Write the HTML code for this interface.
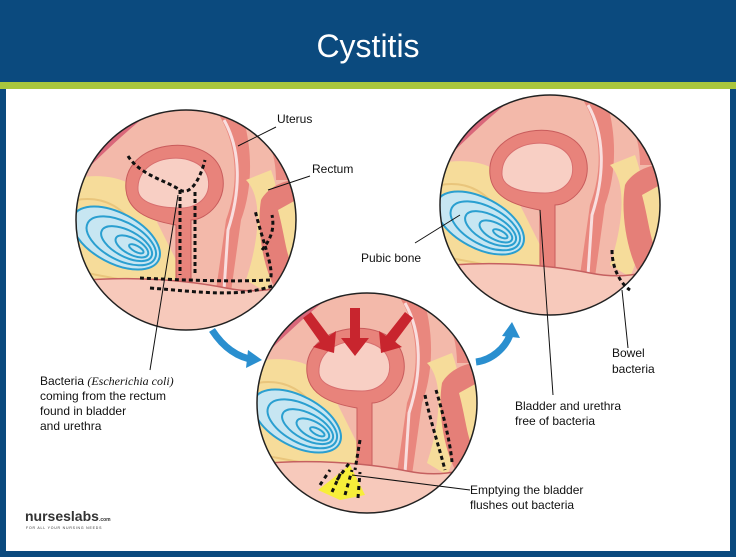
<!DOCTYPE html>
<html><head><meta charset="utf-8"><style>
html,body{margin:0;padding:0;background:#fff}
body{width:736px;height:557px;position:relative;overflow:hidden;font-family:"Liberation Sans",sans-serif}
</style></head><body>
<svg width="736" height="557" viewBox="0 0 736 557" xmlns="http://www.w3.org/2000/svg" style="position:absolute;left:0;top:0">
<defs>
<clipPath id="cc"><circle cx="0" cy="0" r="110"/></clipPath>
<g id="anat">
 <g clip-path="url(#cc)">
  <rect x="-120" y="-120" width="240" height="240" fill="#f3b9aa"/>
  <path d="M-120,-120 L-20,-120 C-60,-90 -90,-60 -120,-30Z" fill="#d9677a"/>
  <path d="M-120,-40 C-80,-50 -50,-40 -40,-20 L-10,40 C0,60 -10,70 -40,72 L-120,80Z" fill="#f6dc9a"/>
  <path d="M-110,-20 C-80,-25 -60,-10 -50,10 M-115,0 C-85,0 -60,20 -50,40 M-115,50 C-90,55 -60,60 -40,65" stroke="#e9c57c" stroke-width="2" fill="none"/>
  <g transform="rotate(28 -70 18)">
   <ellipse cx="-70" cy="18" rx="48" ry="25" fill="#c7e6f2" stroke="#2a9fd0" stroke-width="2"/>
   <ellipse cx="-64" cy="18" rx="38" ry="19" fill="none" stroke="#2a9fd0" stroke-width="2"/>
   <ellipse cx="-58" cy="18" rx="28" ry="13" fill="none" stroke="#2a9fd0" stroke-width="2"/>
   <ellipse cx="-52" cy="18" rx="18" ry="8" fill="none" stroke="#2a9fd0" stroke-width="2"/>
   <ellipse cx="-47" cy="18" rx="8" ry="3" fill="none" stroke="#2a9fd0" stroke-width="2"/>
  </g>
  <path d="M20,-120 C60,-110 90,-90 90,-40 L110,-40 L110,-120Z" fill="#e98a82"/>
  <path d="M-60,-30 C-65,-80 20,-90 35,-50 C45,-20 20,0 5,0 L5,70 L-10,70 L-10,5 C-40,0 -58,-10 -60,-30Z" fill="#e8837b" stroke="#c85c5c" stroke-width="1"/>
  <path d="M-48,-30 C-50,-68 15,-72 22,-42 C26,-22 10,-12 -5,-12 C-30,-12 -47,-18 -48,-30Z" fill="#f8cfc4" stroke="#d86f6f" stroke-width="1"/>
  <path d="M30,-110 C50,-80 55,-40 40,0 L30,70 L45,72 L55,0 C70,-40 65,-90 50,-120Z" fill="#e9877e"/>
  <path d="M38,-100 C55,-70 55,-30 42,10 L38,70" stroke="#f9dede" stroke-width="3" fill="none"/>
  <path d="M60,-40 C80,-20 70,30 60,60 L80,72 C95,40 100,-10 85,-50Z" fill="#f6dc9a"/>
  <path d="M75,-20 C70,10 78,50 90,70 L110,60 L110,-40 C95,-40 80,-30 75,-20Z" fill="#e57f78"/>
  <path d="M92,-10 C100,20 100,40 110,50 L110,-20Z" fill="#f6dc9a"/>
  <path d="M-120,62 C-60,55 0,60 40,68 C70,74 90,70 120,60 L120,120 L-120,120Z" fill="#f7c9bb"/>
  <path d="M-120,62 C-60,55 0,60 40,68 C70,74 90,70 120,60" stroke="#c56060" stroke-width="1.5" fill="none"/>
 </g>
 <circle cx="0" cy="0" r="110" fill="none" stroke="#222" stroke-width="1.5"/>
</g>
</defs>
<rect x="0" y="0" width="736" height="82" fill="#0b4a7e"/>
<rect x="0" y="82" width="736" height="7" fill="#a9c63d"/>
<rect x="0" y="89" width="6" height="468" fill="#0b4a7e"/>
<rect x="730" y="89" width="6" height="468" fill="#0b4a7e"/>
<rect x="0" y="551" width="736" height="6" fill="#0b4a7e"/>
<text x="368" y="57" text-anchor="middle" font-family="Liberation Sans" font-size="32" fill="#fff">Cystitis</text>

<use href="#anat" transform="translate(186,220)"/>
<use href="#anat" transform="translate(550,205)"/>
<use href="#anat" transform="translate(367,403)"/>

<!-- bacteria left -->
<g stroke="#111" stroke-width="3" stroke-dasharray="4,3" fill="none">
 <path d="M128,156 C140,175 165,180 180,190 C190,196 200,180 205,160"/>
 <path d="M180,190 L180,275 M195,192 L195,275"/>
 <path d="M140,278 C180,280 230,282 270,280 C275,270 262,240 255,210"/>
 <path d="M150,288 C200,292 240,298 275,285"/>
 <path d="M262,250 C270,240 275,230 272,215"/>
</g>
<!-- right circle bowel bacteria -->
<g stroke="#111" stroke-width="3" stroke-dasharray="4,3" fill="none">
 <path d="M612,250 C612,270 622,285 630,290"/>
</g>
<!-- bottom -->
<g stroke="#111" stroke-width="3" stroke-dasharray="4,3" fill="none">
 <path d="M425,395 C430,420 440,450 445,470"/>
 <path d="M436,390 C442,410 450,440 452,462"/>
 <path d="M360,440 L355,470"/>
</g>
<path d="M318,490 L350,465 L365,495 L340,500Z" fill="#f7ee3a"/>
<g stroke="#111" stroke-width="3" stroke-dasharray="4,4" fill="none">
 <path d="M320,485 L330,470 M332,492 L342,470 M345,495 L352,470 M358,498 L360,472 M337,480 L350,462"/>
</g>
<!-- red arrows -->
<g fill="#c8252e">
 <path d="M350,308 h10 v30 h9 l-14,18 l-14,-18 h9z"/>
 <path d="M303,318 l8,-6 l18,24 l7,-5 l-2,22 l-21,-6 l7,-5z"/>
 <path d="M405,312 l8,6 l-18,24 l7,5 l-21,6 l-2,-22 l7,5z"/>
</g>
<!-- blue curved arrows -->
<path d="M212,330 C225,350 240,358 255,360" stroke="#2a8fcf" stroke-width="7" fill="none"/>
<path d="M248,350 l14,10 l-16,8z" fill="#2a8fcf"/>
<path d="M476,362 C492,360 505,348 510,335" stroke="#2a8fcf" stroke-width="7" fill="none"/>
<path d="M502,336 l10,-14 l8,16z" fill="#2a8fcf"/>

<!-- leader lines -->
<g stroke="#111" stroke-width="1" fill="none">
 <path d="M276,127 L238,146"/>
 <path d="M310,176 L268,190"/>
 <path d="M178,195 L150,370"/>
 <path d="M415,243 L460,215"/>
 <path d="M540,210 L553,395"/>
 <path d="M622,290 L628,348"/>
 <path d="M352,475 L470,490"/>
</g>
<g font-family="Liberation Sans" font-size="12" fill="#111">
 <text x="277" y="123">Uterus</text>
 <text x="312" y="173">Rectum</text>
 <text x="361" y="262">Pubic bone</text>
 <text x="612" y="357">Bowel</text>
 <text x="612" y="373">bacteria</text>
 <text x="40" y="385">Bacteria <tspan font-family="Liberation Serif" font-style="italic">(Escherichia coli)</tspan></text>
 <text x="40" y="400">coming from the rectum</text>
 <text x="40" y="415">found in bladder</text>
 <text x="40" y="430">and urethra</text>
 <text x="515" y="410">Bladder and urethra</text>
 <text x="515" y="425">free of bacteria</text>
 <text x="470" y="494">Emptying the bladder</text>
 <text x="470" y="509">flushes out bacteria</text>
</g>
<text x="25" y="521" font-family="Liberation Sans" font-size="14" font-weight="bold" fill="#333">nurseslabs<tspan font-size="5">.com</tspan></text>
<text x="26" y="529" font-family="Liberation Sans" font-size="3.5" fill="#333" letter-spacing="0.8">FOR ALL YOUR NURSING NEEDS</text>
</svg>
</body></html>
